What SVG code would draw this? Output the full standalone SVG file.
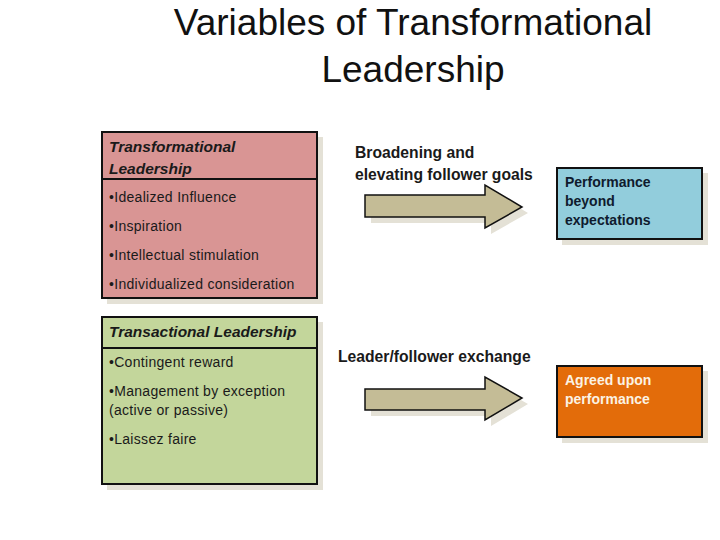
<svg xmlns="http://www.w3.org/2000/svg" width="720" height="540" viewBox="0 0 720 540">
<style>
text{font-family:"Liberation Sans",Arial,sans-serif;fill:#1a1a1a}
.title{font-size:37px;fill:#111}
.hd{font-size:15.5px;font-weight:bold;font-style:italic}
.bl{font-size:14px;letter-spacing:0.3px}
.lbl{font-size:15.7px;font-weight:bold}
.bx{font-size:14px;font-weight:bold}
.shadow{fill:#e4e1d6}
.box{stroke:#111;stroke-width:2}
.arrow{fill:#c4bc96;stroke:#111;stroke-width:1.5}
</style>
<rect width="720" height="540" fill="#fff"/>
<g id="title">
<text class="title" x="413" y="35" text-anchor="middle">Variables of Transformational</text>
<text class="title" x="413" y="82" text-anchor="middle">Leadership</text>
</g>
<g id="transformational">
<rect class="shadow" x="107" y="137" width="216" height="167"/>
<rect class="box" x="102" y="132" width="215" height="166" fill="#d99594"/>
<line x1="102" y1="179" x2="317" y2="179" stroke="#111" stroke-width="2"/>
<text class="hd" x="109" y="152">Transformational</text>
<text class="hd" x="109" y="174">Leadership</text>
<text class="bl" x="109" y="202">•Idealized Influence</text>
<text class="bl" x="109" y="231">•Inspiration</text>
<text class="bl" x="109" y="260">•Intellectual stimulation</text>
<text class="bl" x="109" y="289">•Individualized consideration</text>
</g>
<g id="transactional">
<rect class="shadow" x="107" y="322" width="216" height="168"/>
<rect class="box" x="102" y="317" width="215" height="167" fill="#c3d69b"/>
<line x1="102" y1="348" x2="317" y2="348" stroke="#111" stroke-width="2"/>
<text class="hd" x="109" y="337">Transactional Leadership</text>
<text class="bl" x="109" y="367">•Contingent reward</text>
<text class="bl" x="109" y="396">•Management by exception</text>
<text class="bl" x="109" y="415">(active or passive)</text>
<text class="bl" x="109" y="444">•Laissez faire</text>
</g>
<g id="performance">
<rect class="shadow" x="562" y="173" width="146" height="72"/>
<rect class="box" x="557" y="168" width="145" height="71" fill="#92cddc"/>
<text class="bx" x="565" y="187" style="fill:#0f1b2e">Performance</text>
<text class="bx" x="565" y="206" style="fill:#0f1b2e">beyond</text>
<text class="bx" x="565" y="225" style="fill:#0f1b2e">expectations</text>
</g>
<g id="agreed">
<rect class="shadow" x="562" y="371" width="146" height="72"/>
<rect class="box" x="557" y="366" width="145" height="71" fill="#e36c0a"/>
<text class="bx" x="565" y="385" style="fill:#fbf3e4">Agreed upon</text>
<text class="bx" x="565" y="404" style="fill:#fbf3e4">performance</text>
</g>
<g id="connectors">
<polygon class="shadow" points="371,201 491,201 491,191 528,213 491,234 491,223 371,223"/>
<polygon class="arrow" points="365,195 485,195 485,185 522,207 485,228 485,217 365,217"/>
<text class="lbl" x="355" y="158">Broadening and</text>
<text class="lbl" x="355" y="180">elevating follower goals</text>
<polygon class="shadow" points="371,395 491,395 491,383 528,404 491,426 491,416 371,416"/>
<polygon class="arrow" points="365,389 485,389 485,377 522,398 485,420 485,410 365,410"/>
<text class="lbl" x="338" y="362">Leader/follower exchange</text>
</g>
</svg>
